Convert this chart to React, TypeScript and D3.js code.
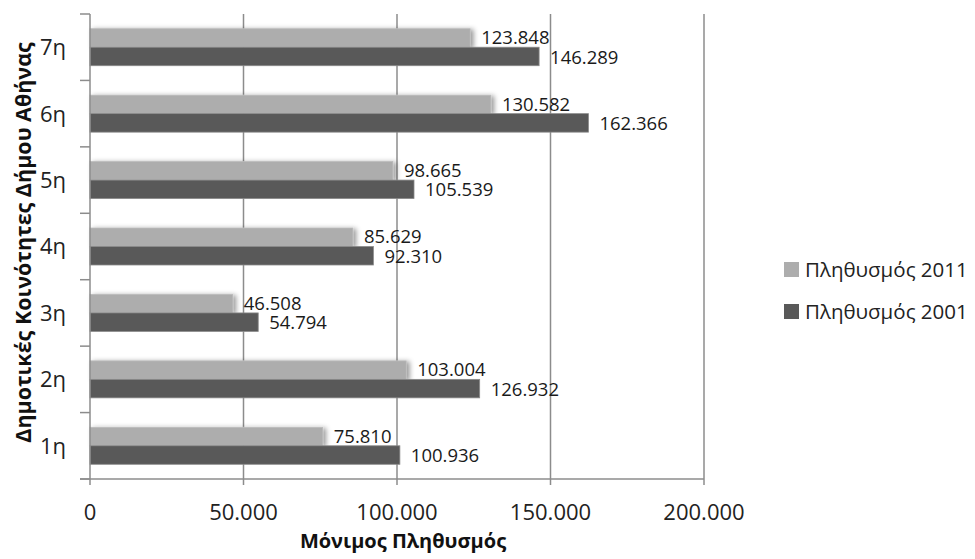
import React from "react";
import * as d3 from "d3";

const categories = ["1η", "2η", "3η", "4η", "5η", "6η", "7η"];
const pop2011 = [75810, 103004, 46508, 85629, 98665, 130582, 123848];
const pop2001 = [100936, 126932, 54794, 92310, 105539, 162366, 146289];
const xTicks = [0, 50000, 100000, 150000, 200000];
const seriesNames = ["Πληθυσμός 2011", "Πληθυσμός 2001"];
const xTitle = "Μόνιμος Πληθυσμός";
const yTitle = "Δημοτικές Κοινότητες Δήμου Αθήνας";

const W = 975;
const H = 559;
const left = 90;
const right = 704;
const top = 14;
const bottom = 479;

const locale = d3.formatLocale({ decimal: ",", thousands: ".", grouping: [3], currency: ["€", ""] });
const fmt = locale.format(",d");

const FONT = "'Open Sans', 'DejaVu Sans', sans-serif";
const LIGHT = "#adadad";
const DARK = "#595959";
const GRID = "#8c8c8c";

export default function App() {
  const x = d3.scaleLinear().domain([0, 200000]).range([left, right]);
  const y = d3
    .scaleBand<string>()
    .domain([...categories].reverse())
    .range([top, bottom])
    .paddingInner(0)
    .paddingOuter(0);
  const bw = y.bandwidth();
  const barH = 18.5;
  const groupOff = (bw - 2 * barH) / 2;

  const bounds = d3.range(categories.length + 1).map((i) => top + i * bw);

  return (
    <svg width={W} height={H} style={{ position: "absolute", left: 0, top: 0, background: "#fff" }}>
      <defs>
        <filter id="shadow" x="-5%" y="-30%" width="115%" height="160%">
          <feDropShadow dx="3" dy="1" stdDeviation="2.5" floodColor="#000" floodOpacity="0.4" />
        </filter>
      </defs>
      {xTicks.slice(1).map((t) => (
        <line key={t} x1={x(t)} x2={x(t)} y1={top} y2={bottom + 6} stroke={GRID} strokeWidth={1.5} />
      ))}
      {categories.map((c, i) => {
        const y0 = (y(c) as number) + groupOff;
        return (
          <g key={c}>
            <rect
              x={x(0)}
              y={y0}
              width={x(pop2011[i]) - x(0)}
              height={barH}
              fill={LIGHT}
              stroke="#bcbcbc"
              strokeWidth={0.8}
              filter="url(#shadow)"
            />
            <rect
              x={x(0)}
              y={y0 + barH}
              width={x(pop2001[i]) - x(0)}
              height={barH}
              fill={DARK}
              stroke="#8a8a8a"
              strokeWidth={0.8}
            />
            <text
              x={x(pop2011[i]) + 11}
              y={y0 + barH / 2 - 0.5}
              dy="0.36em"
              fontFamily={FONT}
              fontSize={18.5}
              fill="#1a1a1a"
            >
              {fmt(pop2011[i])}
            </text>
            <text
              x={x(pop2001[i]) + 11}
              y={y0 + barH * 1.5 + 0.5}
              dy="0.36em"
              fontFamily={FONT}
              fontSize={18.5}
              fill="#1a1a1a"
            >
              {fmt(pop2001[i])}
            </text>
          </g>
        );
      })}
      <line x1={left} x2={left} y1={top} y2={bottom + 6} stroke={GRID} strokeWidth={1.5} />
      {bounds.map((b, i) => (
        <line key={i} x1={left - 10} x2={left} y1={b} y2={b} stroke={GRID} strokeWidth={1.5} />
      ))}
      <line x1={left - 10} x2={right} y1={bottom} y2={bottom} stroke={GRID} strokeWidth={1.5} />
      {xTicks.map((t) => (
        <text
          key={t}
          x={x(t)}
          y={512}
          dy="0.36em"
          textAnchor="middle"
          fontFamily={FONT}
          fontSize={22}
          fill="#222"
        >
          {fmt(t)}
        </text>
      ))}
      {categories.map((c) => (
        <text
          key={c}
          x={66}
          y={(y(c) as number) + bw / 2}
          dy="0.36em"
          textAnchor="end"
          fontFamily={FONT}
          fontSize={22}
          fill="#222"
        >
          {c}
        </text>
      ))}
      <text
        x={(left + right) / 2 + 6}
        y={541}
        dy="0.36em"
        textAnchor="middle"
        fontFamily={FONT}
        fontSize={20}
        fontWeight="bold"
        fill="#111"
      >
        {xTitle}
      </text>
      <text
        transform={`translate(23, ${(top + bottom) / 2 - 4}) rotate(-90)`}
        dy="0.36em"
        textAnchor="middle"
        fontFamily={FONT}
        fontSize={21.5}
        fontWeight="bold"
        fill="#111"
      >
        {yTitle}
      </text>
      {seriesNames.map((s, i) => (
        <g key={s} transform={`translate(784, ${262 + i * 42})`}>
          <rect x={0} y={0} width={15} height={15} fill={i === 0 ? LIGHT : DARK} />
          <text x={21} y={7.5} dy="0.36em" fontFamily={FONT} fontSize={20.5} fill="#222">
            {s}
          </text>
        </g>
      ))}
    </svg>
  );
}
